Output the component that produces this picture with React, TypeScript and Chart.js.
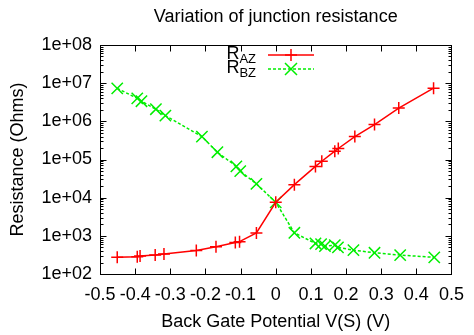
import { useEffect, useRef } from "react";
import { Chart, registerables } from "chart.js";

Chart.register(...registerables);

// ---- data ----
const vAZ = [-0.451, -0.394, -0.386, -0.343, -0.318, -0.226, -0.17, -0.115, -0.103, -0.055, 0, 0.053, 0.113, 0.131, 0.168, 0.178, 0.225, 0.281, 0.35, 0.449];
const rAZ = [273, 283, 295, 313, 333, 415, 515, 671, 705, 1195, 7550, 21900, 66000, 90000, 165000, 194000, 398000, 820000, 2230000, 7400000];
const vBZ = [-0.451, -0.394, -0.382, -0.341, -0.314, -0.21, -0.166, -0.112, -0.101, -0.055, 0, 0.053, 0.113, 0.129, 0.14, 0.168, 0.177, 0.221, 0.281, 0.354, 0.451];
const rBZ = [7300000, 4000000, 3370000, 2080000, 1410000, 398000, 155000, 66000, 49600, 23000, 7550, 1200, 632, 607, 537, 571, 498, 423, 360, 313, 273];
const xTickValues = [-0.5, -0.4, -0.3, -0.2, -0.1, 0, 0.1, 0.2, 0.3, 0.4, 0.5];
const yTickExponents = [2, 3, 4, 5, 6, 7, 8];
const seriesMain = ["R", "R"];
const seriesSub = ["AZ", "BZ"];
const chartTitle = "Variation of junction resistance";
const xTitle = "Back Gate Potential V(S) (V)";
const yTitle = "Resistance (Ohms)";

const FONT = "'Liberation Sans', Arial, Helvetica, sans-serif";
const FS = 18;
const RED = "#ff0000";
const GREEN = "#00ee00";

const framePlugin = {
  id: "frameTicks",
  beforeDatasetsDraw(chart: any) {
    const { ctx, chartArea: a, scales } = chart;
    const xs = scales.x;
    const ys = scales.y;
    ctx.save();
    ctx.strokeStyle = "#000";
    ctx.lineWidth = 1;
    const L = Math.round(a.left) + 0.5;
    const R = Math.round(a.right) + 0.5;
    const T = Math.round(a.top) + 0.5;
    const B = Math.round(a.bottom) + 0.5;
    ctx.beginPath();
    xTickValues.forEach((v) => {
      const px = Math.round(xs.getPixelForValue(v)) + 0.5;
      ctx.moveTo(px, B);
      ctx.lineTo(px, B - 6);
      ctx.moveTo(px, T);
      ctx.lineTo(px, T + 6);
    });
    yTickExponents.forEach((e) => {
      const py = Math.round(ys.getPixelForValue(Math.pow(10, e))) + 0.5;
      ctx.moveTo(L, py);
      ctx.lineTo(L + 6, py);
      ctx.moveTo(R, py);
      ctx.lineTo(R - 6, py);
      if (e < 8) {
        for (let m = 2; m <= 9; m++) {
          const pm = Math.round(ys.getPixelForValue(m * Math.pow(10, e))) + 0.5;
          ctx.moveTo(L, pm);
          ctx.lineTo(L + 3, pm);
          ctx.moveTo(R, pm);
          ctx.lineTo(R - 3, pm);
        }
      }
    });
    ctx.stroke();
    ctx.strokeRect(L, T, R - L, B - T);
    ctx.restore();
  },
  afterDraw(chart: any) {
    const { ctx, chartArea: a } = chart;
    ctx.save();
    ctx.fillStyle = "#000";
    ctx.font = `${FS}px ${FONT}`;
    ctx.textAlign = "center";
    ctx.textBaseline = "middle";
    ctx.fillText(chartTitle, (a.left + a.right) / 2, 17);
    const rows = [
      { y: 55, color: RED, dash: [] as number[], style: "cross" },
      { y: 69, color: GREEN, dash: [3, 2], style: "crossRot" },
    ];
    rows.forEach((r, i) => {
      ctx.font = `13px ${FONT}`;
      const subW = ctx.measureText(seriesSub[i]).width;
      const textRight = 256;
      ctx.textAlign = "left";
      ctx.textBaseline = "alphabetic";
      ctx.fillStyle = "#000";
      ctx.fillText(seriesSub[i], textRight - subW, r.y + 8);
      ctx.font = `${FS}px ${FONT}`;
      const mw = ctx.measureText(seriesMain[i]).width;
      ctx.fillText(seriesMain[i], textRight - subW - mw, r.y + 4);
      ctx.strokeStyle = r.color;
      ctx.lineWidth = 1.5;
      ctx.setLineDash(r.dash);
      ctx.beginPath();
      ctx.moveTo(268, r.y);
      ctx.lineTo(314, r.y);
      ctx.stroke();
      ctx.setLineDash([]);
      ctx.beginPath();
      if (r.style === "cross") {
        ctx.moveTo(291 - 6, r.y);
        ctx.lineTo(291 + 6, r.y);
        ctx.moveTo(291, r.y - 6);
        ctx.lineTo(291, r.y + 6);
      } else {
        ctx.moveTo(291 - 6, r.y - 6);
        ctx.lineTo(291 + 6, r.y + 6);
        ctx.moveTo(291 - 6, r.y + 6);
        ctx.lineTo(291 + 6, r.y - 6);
      }
      ctx.stroke();
    });
    ctx.restore();
  },
};

export default function App() {
  const ref = useRef<HTMLCanvasElement | null>(null);
  useEffect(() => {
    if (!ref.current) return;
    Chart.defaults.font.family = FONT;
    const chart = new Chart(ref.current, {
      type: "line",
      data: {
        datasets: [
          {
            label: "R_AZ",
            data: vAZ.map((x, i) => ({ x, y: rAZ[i] })),
            borderColor: RED,
            backgroundColor: RED,
            borderWidth: 1.5,
            pointStyle: "cross",
            pointRadius: 6,
            pointBorderWidth: 1.5,
            pointBorderColor: RED,
            tension: 0,
          },
          {
            label: "R_BZ",
            data: vBZ.map((x, i) => ({ x, y: rBZ[i] })),
            borderColor: GREEN,
            backgroundColor: GREEN,
            borderWidth: 1.5,
            borderDash: [3, 2],
            pointStyle: "crossRot",
            pointRadius: 8,
            pointBorderWidth: 1.5,
            pointBorderColor: GREEN,
            tension: 0,
          },
        ],
      },
      options: {
        animation: false,
        responsive: false,
        layout: { padding: { top: 45, right: 13, left: 0, bottom: 0 } },
        plugins: {
          legend: { display: false },
          tooltip: { enabled: false },
          title: { display: false },
        },
        scales: {
          x: {
            type: "linear",
            min: -0.5,
            max: 0.5,
            grid: { display: false, drawTicks: false },
            border: { display: false },
            afterBuildTicks: (s: any) => {
              s.ticks = xTickValues.map((v) => ({ value: v }));
            },
            afterFit: (s: any) => {
              s.height = 61;
            },
            ticks: {
              padding: 10,
              maxRotation: 0,
              autoSkip: false,
              color: "#000",
              font: { size: FS },
              callback: (v: any) => (Math.abs(v) < 1e-9 ? "0" : Number(v).toFixed(1)),
            },
            title: {
              display: true,
              text: xTitle,
              color: "#000",
              font: { size: FS },
              padding: { top: 0, bottom: 2 },
            },
          },
          y: {
            type: "logarithmic",
            min: 100,
            max: 1e8,
            grid: { display: false, drawTicks: false },
            border: { display: false },
            afterBuildTicks: (s: any) => {
              s.ticks = yTickExponents.map((e) => ({ value: Math.pow(10, e) }));
            },
            afterFit: (s: any) => {
              s.width = 100;
            },
            ticks: {
              padding: 8,
              autoSkip: false,
              color: "#000",
              font: { size: FS },
              callback: (v: any) => "1e+" + String(Math.round(Math.log10(v))).padStart(2, "0"),
            },
            title: {
              display: true,
              text: yTitle,
              color: "#000",
              font: { size: FS },
              padding: { top: 7, bottom: 0 },
            },
          },
        },
      },
      plugins: [framePlugin],
    } as any);
    return () => chart.destroy();
  }, []);
  return (
    <div style={{ position: "fixed", left: 0, top: 0, width: 474, height: 335, background: "#fff" }}>
      <canvas ref={ref} width={474} height={335} style={{ display: "block" }} />
    </div>
  );
}
